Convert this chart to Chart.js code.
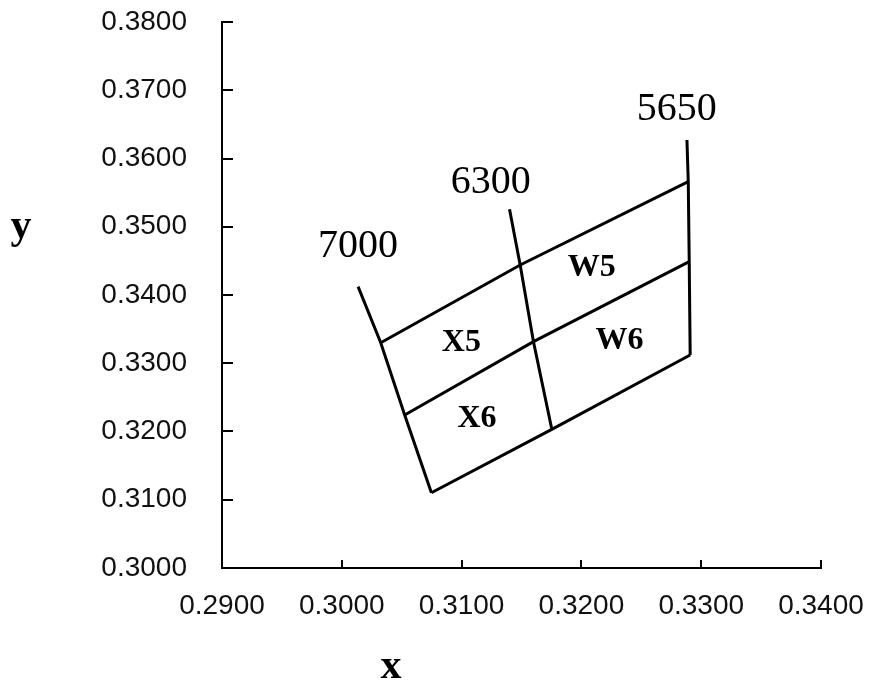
<!DOCTYPE html>
<html>
<head>
<meta charset="utf-8">
<script src="https://cdn.jsdelivr.net/npm/chart.js@4/dist/chart.umd.min.js"></script>
<style>
  html, body { margin: 0; padding: 0; background: #fff; }
  canvas { display: block; }
</style>
</head>
<body>
<canvas id="chart" width="869" height="682"></canvas>
<script>
// Axis tick values
const xTickValues = [0.29, 0.30, 0.31, 0.32, 0.33, 0.34];
const yTickValues = [0.30, 0.31, 0.32, 0.33, 0.34, 0.35, 0.36, 0.37, 0.38];

// Isotherm lines (x, y), from the free top end down through the three grid rows
const cct7000 = [[0.30136, 0.34122], [0.30325, 0.33301], [0.30525, 0.32242], [0.30748, 0.31103]];
const cct6300 = [[0.31400, 0.35256], [0.31489, 0.34440], [0.31600, 0.33316], [0.31753, 0.32032]];
const cct5650 = [[0.32881, 0.36271], [0.32892, 0.35660], [0.32900, 0.34488], [0.32908, 0.33121]];

// Lines of constant offset joining the isotherms
const rowUpper = [[0.30325, 0.33301], [0.31489, 0.34440], [0.32892, 0.35660]];
const rowMiddle = [[0.30525, 0.32242], [0.31600, 0.33316], [0.32900, 0.34488]];
const rowLower = [[0.30748, 0.31103], [0.31753, 0.32032], [0.32908, 0.33121]];

// Text drawn on the plot
const isothermLabels = ['7000', '6300', '5650'];
const binLabels = ['X5', 'X6', 'W5', 'W6'];

// Where each text sits, in data units
const isothermLabelAt = [[0.30136, 0.34711], [0.31243, 0.35653], [0.32796, 0.36711]];
const binLabelAt = [[0.30998, 0.33304], [0.31128, 0.32188], [0.32086, 0.34396], [0.32317, 0.33326]];

const toPoints = arr => arr.map(([x, y]) => ({ x, y }));
const lineSet = arr => ({
  data: toPoints(arr),
  showLine: true,
  borderColor: '#000',
  borderWidth: 3,
  pointRadius: 0,
  pointHoverRadius: 0,
  fill: false,
  tension: 0
});

// Inward tick marks, axis titles and in-plot labels
const decorations = {
  id: 'decorations',
  afterDraw(chart) {
    const { ctx, chartArea, scales: { x, y } } = chart;
    ctx.save();
    ctx.strokeStyle = '#000';
    ctx.lineWidth = 2;
    ctx.beginPath();
    yTickValues.forEach(v => {
      const py = Math.round(y.getPixelForValue(v));
      ctx.moveTo(chartArea.left, py);
      ctx.lineTo(chartArea.left + 11, py);
    });
    xTickValues.forEach(v => {
      const px = Math.round(x.getPixelForValue(v));
      ctx.moveTo(px, chartArea.bottom);
      ctx.lineTo(px, chartArea.bottom - 8);
    });
    ctx.stroke();

    ctx.fillStyle = '#000';
    ctx.textAlign = 'center';
    ctx.textBaseline = 'middle';
    ctx.font = '40px "Liberation Serif"';
    isothermLabels.forEach((t, i) => {
      ctx.fillText(t, x.getPixelForValue(isothermLabelAt[i][0]), y.getPixelForValue(isothermLabelAt[i][1]));
    });
    ctx.font = 'bold 32px "Liberation Serif"';
    binLabels.forEach((t, i) => {
      ctx.fillText(t, x.getPixelForValue(binLabelAt[i][0]), y.getPixelForValue(binLabelAt[i][1]));
    });

    // axis titles
    ctx.font = 'bold 42px "Liberation Serif"';
    ctx.textBaseline = 'alphabetic';
    ctx.fillText('y', 21, 238);
    ctx.fillText('x', 391, 678);
    ctx.restore();
  }
};

const tickFont = { family: '"Liberation Sans", Arial, sans-serif', size: 28 };

new Chart(document.getElementById('chart'), {
  type: 'scatter',
  data: {
    datasets: [cct7000, cct6300, cct5650, rowUpper, rowMiddle, rowLower].map(lineSet)
  },
  options: {
    responsive: false,
    animation: false,
    devicePixelRatio: 1,
    layout: { padding: { top: 22, right: 48, left: 0, bottom: 0 } },
    plugins: { legend: { display: false }, tooltip: { enabled: false } },
    scales: {
      x: {
        type: 'linear',
        position: 'bottom',
        min: 0.29,
        max: 0.34,
        afterBuildTicks: s => { s.ticks = xTickValues.map(v => ({ value: v })); },
        afterFit: s => { s.height = 114; s.paddingLeft = 0; s.paddingRight = 0; },
        grid: { display: false, drawTicks: false },
        border: { display: true, color: '#000', width: 2 },
        ticks: {
          autoSkip: false,
          maxRotation: 0,
          padding: 21,
          color: '#111',
          font: tickFont,
          callback: v => Number(v).toFixed(4)
        }
      },
      y: {
        type: 'linear',
        position: 'left',
        min: 0.30,
        max: 0.38,
        afterBuildTicks: s => { s.ticks = yTickValues.map(v => ({ value: v })); },
        afterFit: s => { s.width = 222; s.paddingTop = 0; s.paddingBottom = 0; },
        grid: { display: false, drawTicks: false },
        border: { display: true, color: '#000', width: 2 },
        ticks: {
          autoSkip: false,
          padding: 35,
          color: '#111',
          font: tickFont,
          callback: v => Number(v).toFixed(4)
        }
      }
    }
  },
  plugins: [decorations]
});
</script>
</body>
</html>
